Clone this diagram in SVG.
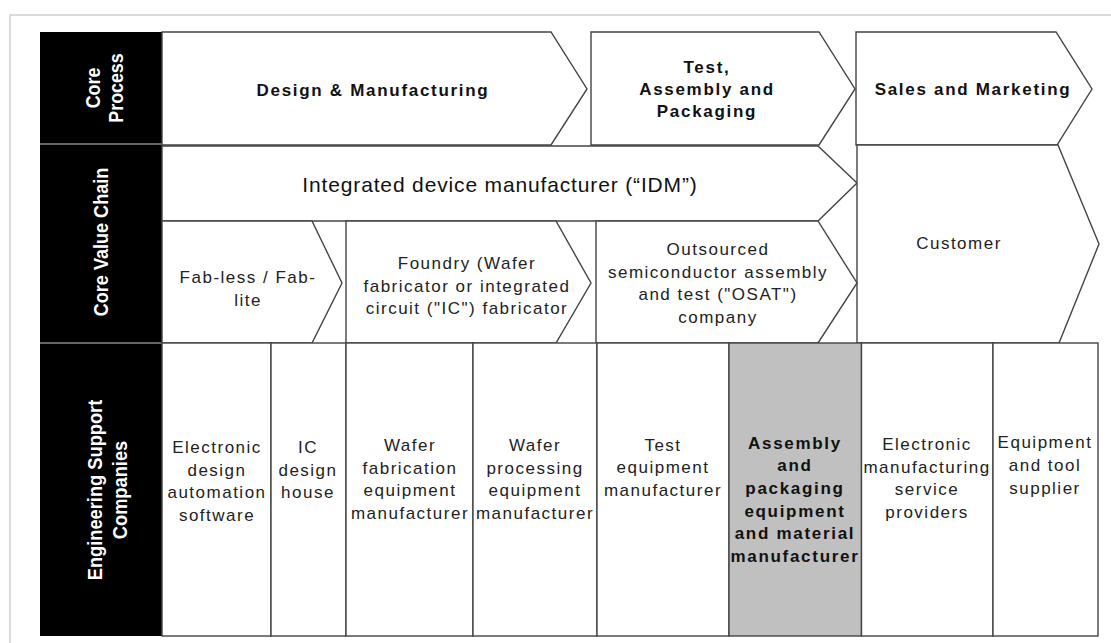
<svg xmlns="http://www.w3.org/2000/svg" width="1111" height="643" viewBox="0 0 1111 643">
<style>
text{font-family:"Liberation Sans",Arial,sans-serif;fill:#111;text-anchor:middle}
.hd{font-size:17px;font-weight:bold;letter-spacing:1.7px}
.rg{font-size:17px;letter-spacing:1.5px;fill:#222}
.bd{font-size:17px;font-weight:bold;letter-spacing:1.7px}
.big{font-size:21px;letter-spacing:0.85px}
.side{font-size:21px;font-weight:bold;fill:#fff}
.shape{fill:#fff;stroke:#444;stroke-width:1.4;stroke-linejoin:miter}
.cell{fill:#fff;stroke:#444;stroke-width:1.4}
</style>
<rect x="0" y="0" width="1111" height="643" fill="#fff"/>
<rect x="10" y="15" width="1200" height="700" fill="none" stroke="#cfcfcf" stroke-width="1.5"/>

<g id="side-labels">
<rect x="40" y="32" width="122" height="604" fill="#000"/>
<line x1="40" y1="144" x2="162" y2="144" stroke="#888" stroke-width="1.5"/>
<line x1="40" y1="343" x2="162" y2="343" stroke="#888" stroke-width="1.5"/>
<text class="side" transform="translate(100,88) rotate(-90) scale(0.85,1)">Core</text>
<text class="side" transform="translate(123,88) rotate(-90) scale(0.85,1)">Process</text>
<text class="side" transform="translate(108,242) rotate(-90) scale(0.86,1)">Core Value Chain</text>
<text class="side" transform="translate(102,490) rotate(-90) scale(0.87,1)">Engineering Support</text>
<text class="side" transform="translate(127,490) rotate(-90) scale(0.87,1)">Companies</text>
</g>

<g id="design-manufacturing">
<path class="shape" d="M162,32 H551 L587,89 L551,145 H162 Z"/>
<text class="hd" x="373" y="96">Design &amp; Manufacturing</text>
</g>
<g id="test-assembly-packaging">
<path class="shape" d="M591,32 H819 L855,89 L819,145 H591 Z"/>
<text class="hd" x="707" y="73">Test,</text>
<text class="hd" x="707" y="95">Assembly and</text>
<text class="hd" x="707" y="117">Packaging</text>
</g>
<g id="sales-marketing">
<path class="shape" d="M856,32 H1056 L1092,89 L1057,145 H856 Z"/>
<text class="hd" x="973" y="95">Sales and Marketing</text>
</g>

<g id="idm">
<path class="shape" d="M162,146 H818 L857,183 L818,221 H162 Z"/>
<text class="big" x="500" y="192">Integrated device manufacturer (“IDM”)</text>
</g>
<g id="customer">
<path class="shape" d="M857,145 H1058 L1099,244 L1059,343 H857 Z"/>
<text class="rg" x="959" y="249">Customer</text>
</g>
<g id="fabless">
<path class="shape" d="M162,221 H312 L342,283 L312,343 H162 Z"/>
<text class="rg" x="248" y="283">Fab-less / Fab-</text>
<text class="rg" x="248" y="306">lite</text>
</g>
<g id="foundry">
<path class="shape" d="M346,221 H556 L591,283 L556,343 H346 Z"/>
<text class="rg" x="467" y="269">Foundry (Wafer</text>
<text class="rg" x="467" y="292">fabricator or integrated</text>
<text class="rg" x="467" y="314">circuit ("IC") fabricator</text>
</g>
<g id="osat">
<path class="shape" d="M596,221 H818 L857,283 L818,343 H596 Z"/>
<text class="rg" x="718" y="255">Outsourced</text>
<text class="rg" x="718" y="278">semiconductor assembly</text>
<text class="rg" x="718" y="300">and test ("OSAT")</text>
<text class="rg" x="718" y="323">company</text>
</g>

<g id="eda">
<rect class="cell" x="162" y="343" width="109" height="293"/>
<text class="rg" x="217" y="453">Electronic</text>
<text class="rg" x="217" y="476">design</text>
<text class="rg" x="217" y="498">automation</text>
<text class="rg" x="217" y="521">software</text>
</g>
<g id="ic-design-house">
<rect class="cell" x="271" y="343" width="75" height="293"/>
<text class="rg" x="308" y="453">IC</text>
<text class="rg" x="308" y="476">design</text>
<text class="rg" x="308" y="498">house</text>
</g>
<g id="wafer-fab-equipment">
<rect class="cell" x="346" y="343" width="127" height="293"/>
<text class="rg" x="410" y="451">Wafer</text>
<text class="rg" x="410" y="474">fabrication</text>
<text class="rg" x="410" y="496">equipment</text>
<text class="rg" x="410" y="519">manufacturer</text>
</g>
<g id="wafer-processing-equipment">
<rect class="cell" x="473" y="343" width="124" height="293"/>
<text class="rg" x="535" y="451">Wafer</text>
<text class="rg" x="535" y="474">processing</text>
<text class="rg" x="535" y="496">equipment</text>
<text class="rg" x="535" y="519">manufacturer</text>
</g>
<g id="test-equipment">
<rect class="cell" x="597" y="343" width="132" height="293"/>
<text class="rg" x="663" y="451">Test</text>
<text class="rg" x="663" y="473">equipment</text>
<text class="rg" x="663" y="496">manufacturer</text>
</g>
<g id="assembly-packaging-equipment">
<rect class="cell" x="729" y="343" width="132.5" height="293" style="fill:#c0c0c0"/>
<text class="bd" x="795" y="449">Assembly</text>
<text class="bd" x="795" y="471">and</text>
<text class="bd" x="795" y="494">packaging</text>
<text class="bd" x="795" y="517">equipment</text>
<text class="bd" x="795" y="539">and material</text>
<text class="bd" x="795" y="562">manufacturer</text>
</g>
<g id="ems">
<rect class="cell" x="861.5" y="343" width="131.5" height="293"/>
<text class="rg" x="927" y="450">Electronic</text>
<text class="rg" x="927" y="473">manufacturing</text>
<text class="rg" x="927" y="495">service</text>
<text class="rg" x="927" y="518">providers</text>
</g>
<g id="equipment-tool-supplier">
<rect class="cell" x="993" y="343" width="105" height="293"/>
<text class="rg" x="1045" y="448">Equipment</text>
<text class="rg" x="1045" y="471">and tool</text>
<text class="rg" x="1045" y="494">supplier</text>
</g>

<g id="connectors"></g>
</svg>
